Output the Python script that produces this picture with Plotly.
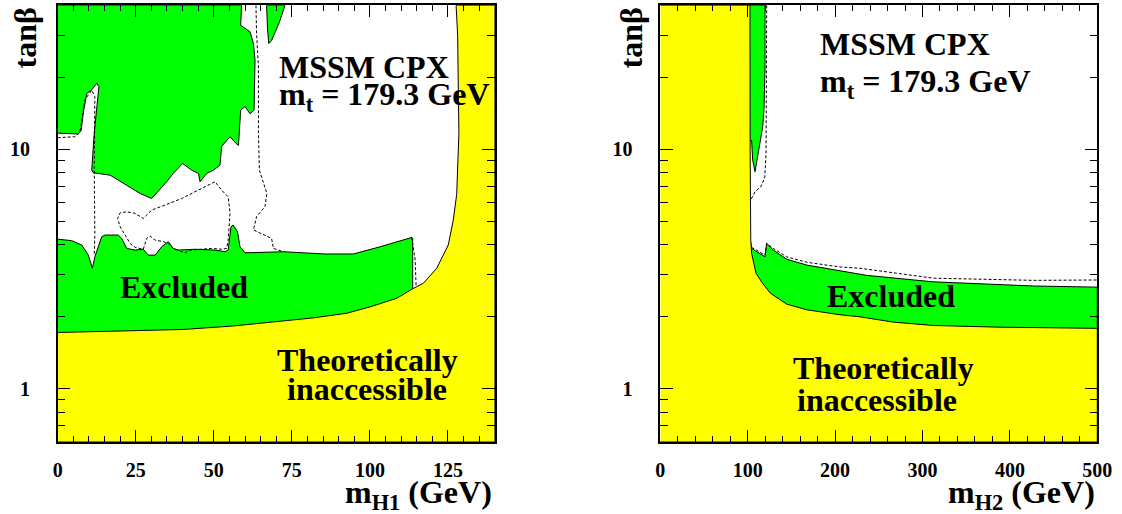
import math
import plotly.graph_objects as go

# ---------------- data: left panel (m_H1) ----------------
h1_excl_upper_x = [0, 58.9, 58.6, 61.6, 62.7, 63.2, 62.9, 61.6, 60.0, 58.6, 57.9, 57.1, 55.2, 52.5, 52.0,
                   49.9, 47.7, 45.6, 45.1, 42.9, 40.0, 37.0, 34.9, 30.1, 26.4, 22.1, 16.8, 11.4, 10.9,
                   11.7, 13.2, 12.5, 11.0, 9.3, 8.3, 7.5, 6.6, 0]
h1_excl_upper_tanb = [40, 40, 33.0, 31.0, 27.7, 23.6, 14.6, 14.1, 15.1, 14.6, 10.4, 10.6, 11.3, 10.3, 8.6,
                      8.2, 7.94, 7.33, 7.94, 8.2, 8.74, 7.94, 7.33, 6.24, 6.55, 7.1, 7.81, 7.99, 8.2,
                      11.7, 18.3, 18.9, 17.8, 17.1, 14.5, 12.0, 11.6, 11.7]

h1_excl_sliver_x = [66.9, 72.8, 71.0, 68.5, 67.6, 67.2, 66.9]
h1_excl_sliver_tanb = [40, 40, 34, 28.5, 27.7, 32, 40]

h1_excl_lower_x = [0, 4.5, 7.7, 9.8, 11.1, 11.9, 14.1, 15.2, 19.4, 20.5, 22.1, 24.8, 27.4, 29.0, 31.2,
                   33.3, 35.4, 37.0, 38.6, 44.0, 50.4, 53.6, 54.6, 55.5, 56.2, 57.6, 58.4, 60.0, 72.3,
                   85.6, 94.7, 103.2, 113.4, 113.7, 113.7, 0]
h1_excl_lower_tanb = [4.22, 4.16, 3.99, 3.62, 3.19, 3.56, 4.32, 4.39, 4.39, 4.25, 3.86, 3.80, 3.83, 3.62, 3.62,
                      3.92, 4.12, 3.86, 3.80, 3.83, 3.80, 3.74, 3.80, 4.75, 4.83, 4.53, 3.92, 3.70, 3.74,
                      3.66, 3.66, 3.92, 4.29, 4.25, 0.6, 0.6]

h1_theory_x = [0, 24, 40, 56, 71.2, 82, 92.6, 100, 108.6, 113.7, 117.1, 121.4, 125.1, 126.7, 127.8,
               128.5, 128.1, 127.6, 140, 140, 0]
h1_theory_tanb = [1.72, 1.75, 1.77, 1.83, 1.91, 1.98, 2.07, 2.20, 2.39, 2.62, 2.76, 3.19, 3.99, 5.07, 6.5,
                  11.7, 30, 40, 40, 0.6, 0.6]

h1_exp_a_x = [0, 5.5, 7.1, 8.7, 10.9, 11.9, 11.7, 11.9, 11.7]
h1_exp_a_tanb = [11.2, 11.3, 11.8, 16.1, 17.7, 16.6, 8.46, 4.46, 3.6]

h1_exp_b_x = [27.4, 28.5, 29.6, 31.2, 33.8, 35.4, 37.0, 40.8, 42.4, 46.1, 49.3, 52.5, 54.1, 54.6, 55.2,
              54.6, 52.5, 50.4, 48.2, 44.0, 39.7, 34.4, 30.1, 27.4, 24.8, 22.1, 20.0, 19.2, 20.0, 21.6,
              23.2, 24.8, 27.4]
h1_exp_b_tanb = [3.83, 4.25, 4.35, 4.18, 4.12, 4.05, 3.86, 3.70, 3.80, 3.83, 3.86, 3.83, 3.86, 4.18, 5.41,
                 6.34, 6.76, 7.33, 7.10, 6.66, 6.24, 5.86, 5.58, 5.15, 5.41, 5.49, 5.44, 5.15, 4.75, 4.39,
                 4.05, 3.90, 3.83]

h1_exp_c_x = [63.5, 63.7, 64.3, 64.3, 64.6, 67.0, 66.4, 63.7, 62.7, 68.5, 69.1, 72.3]
h1_exp_c_tanb = [40, 30.5, 22.1, 11.7, 8.2, 6.55, 5.77, 5.24, 4.61, 4.25, 3.86, 3.74]

h1_exp_d_x = [113.4, 114.5, 114.8]
h1_exp_d_tanb = [4.29, 3.45, 2.67]

# ---------------- data: right panel (m_H2) ----------------
h2_excl_sliver_x = [100, 119.8, 119.8, 118.6, 117.1, 112.1, 108.4, 105.7, 104.5, 100]
h2_excl_sliver_tanb = [40, 40, 22.1, 14.6, 12.4, 9.62, 8.07, 9.02, 10.9, 10.9]

h2_excl_lower_x = [103.5, 104.5, 119.8, 121.7, 129.3, 144.6, 167.5, 205.6, 236, 312, 427, 500, 500, 103.5]
h2_excl_lower_tanb = [4.1, 3.86, 3.56, 4.05, 3.80, 3.48, 3.29, 3.12, 2.98, 2.80, 2.69, 2.66, 0.6, 0.6]

h2_theory_x = [0, 102.6, 102.8, 103.2, 103.5, 104.5, 106.5, 109.5, 117, 126, 144.6, 167.5, 205.6, 228.5,
               266.6, 312.4, 388.7, 500, 500, 0]
h2_theory_tanb = [40, 40, 10, 5, 4.18, 3.68, 3.40, 3.04, 2.76, 2.51, 2.26, 2.14, 2.04, 2.00,
                  1.90, 1.84, 1.81, 1.79, 0.6, 0.6]

h2_exp_a_x = [121.7, 121.5, 121.0, 119.5, 114.9, 108.4, 104.0]
h2_exp_a_tanb = [40, 20, 9.62, 7.6, 6.98, 6.66, 6.2]

h2_exp_b_x = [104.5, 119.8, 121.7, 129.3, 144.6, 167.5, 205.6, 228.5, 312.4, 426.8, 500]
h2_exp_b_tanb = [3.9, 3.62, 4.05, 3.86, 3.56, 3.38, 3.23, 3.19, 2.90, 2.84, 2.85]

# ---------------- axes / labels ----------------
tanb_range = [0.6, 40]
h1_range = [0, 140]
h2_range = [0, 500]
h1_ticks = [0, 25, 50, 75, 100, 125]
h2_ticks = [0, 100, 200, 300, 400, 500]
tanb_major = [1, 10]
tanb_minor = [0.7, 0.8, 0.9, 2, 3, 4, 5, 6, 7, 8, 9, 20, 30]

GREEN = "#00ff00"
YELLOW = "#ffff00"
FONT = "Liberation Serif"

fig = go.Figure()


def poly(x, y, color, xa, ya):
    fig.add_trace(go.Scatter(x=x, y=y, mode="lines", fill="toself", fillcolor=color,
                             line=dict(color="black", width=1), xaxis=xa, yaxis=ya,
                             hoverinfo="skip", showlegend=False))


def dashed(x, y, xa, ya):
    fig.add_trace(go.Scatter(x=x, y=y, mode="lines",
                             line=dict(color="black", width=1, dash="3px,2px"),
                             xaxis=xa, yaxis=ya, hoverinfo="skip", showlegend=False))


# left panel
poly(h1_excl_upper_x, h1_excl_upper_tanb, GREEN, "x", "y")
poly(h1_excl_sliver_x, h1_excl_sliver_tanb, GREEN, "x", "y")
poly(h1_excl_lower_x, h1_excl_lower_tanb, GREEN, "x", "y")
poly(h1_theory_x, h1_theory_tanb, YELLOW, "x", "y")
dashed(h1_exp_a_x, h1_exp_a_tanb, "x", "y")
dashed(h1_exp_b_x, h1_exp_b_tanb, "x", "y")
dashed(h1_exp_c_x, h1_exp_c_tanb, "x", "y")
dashed(h1_exp_d_x, h1_exp_d_tanb, "x", "y")

# right panel
poly(h2_excl_sliver_x, h2_excl_sliver_tanb, GREEN, "x2", "y2")
poly(h2_excl_lower_x, h2_excl_lower_tanb, GREEN, "x2", "y2")
poly(h2_theory_x, h2_theory_tanb, YELLOW, "x2", "y2")
dashed(h2_exp_a_x, h2_exp_a_tanb, "x2", "y2")
dashed(h2_exp_b_x, h2_exp_b_tanb, "x2", "y2")

W, H = 1122, 514
tickfont = dict(family=FONT, size=20, color="black", weight="bold")


def xaxis_cfg(rng, ticks, minor_dtick, x0, x1, anchor):
    return dict(domain=[x0 / W, x1 / W], range=rng, tickvals=ticks, ticks="inside", ticklen=12,
                tickwidth=1, tickcolor="black", mirror="ticks", showline=True, linewidth=1.5,
                linecolor="black", showgrid=False, zeroline=False, tickfont=tickfont,
                ticklabelstandoff=9, automargin=False, anchor=anchor,
                minor=dict(dtick=minor_dtick, ticks="inside", ticklen=6, tickcolor="black",
                           tickwidth=1, showgrid=False))


def yaxis_cfg(anchor):
    return dict(domain=[1 - 442 / H, 1 - 5.3 / H], type="log",
                range=[math.log10(tanb_range[0]), math.log10(tanb_range[1])],
                tickvals=tanb_major, ticktext=[str(v) for v in tanb_major], ticks="inside",
                ticklen=13, tickwidth=1, tickcolor="black", mirror="ticks", showline=True,
                linewidth=1.5, linecolor="black", showgrid=False, zeroline=False,
                tickfont=tickfont, ticklabelstandoff=22, anchor=anchor, automargin=False,
                minor=dict(tickvals=tanb_minor, ticks="inside", ticklen=8, tickcolor="black",
                           tickwidth=1, showgrid=False))


big = dict(family=FONT, size=32, color="black", weight="bold")
title_font = dict(family=FONT, size=32, color="black", weight="bold")

annotations = [
    dict(text="MSSM CPX", x=70.2, y=math.log10(22.0), xref="x", yref="y", xanchor="left", yanchor="middle"),
    dict(text="m<sub>t</sub> = 179.3 GeV", x=70.2, y=math.log10(16.7), xref="x", yref="y", xanchor="left", yanchor="middle"),
    dict(text="Excluded", x=40.3, y=math.log10(2.66), xref="x", yref="y", xanchor="center", yanchor="middle"),
    dict(text="Theoretically", x=99.2, y=math.log10(1.325), xref="x", yref="y", xanchor="center", yanchor="middle"),
    dict(text="inaccessible", x=99.1, y=math.log10(0.995), xref="x", yref="y", xanchor="center", yanchor="middle"),
    dict(text="MSSM CPX", x=180.4, y=math.log10(27.6), xref="x2", yref="y2", xanchor="left", yanchor="middle"),
    dict(text="m<sub>t</sub> = 179.3 GeV", x=180.4, y=math.log10(18.8), xref="x2", yref="y2", xanchor="left", yanchor="middle"),
    dict(text="Excluded", x=263.4, y=math.log10(2.44), xref="x2", yref="y2", xanchor="center", yanchor="middle"),
    dict(text="Theoretically", x=254.8, y=math.log10(1.22), xref="x2", yref="y2", xanchor="center", yanchor="middle"),
    dict(text="inaccessible", x=247.6, y=math.log10(0.90), xref="x2", yref="y2", xanchor="center", yanchor="middle"),
]
for a in annotations:
    a.update(showarrow=False, font=big)

axis_titles = [
    dict(text="m<sub>H1</sub> (GeV)", x=494 / W, y=1 - 494 / H, xanchor="right", yanchor="middle"),
    dict(text="m<sub>H2</sub> (GeV)", x=1097 / W, y=1 - 494 / H, xanchor="right", yanchor="middle"),
    dict(text="tanβ", x=25 / W, y=1 - 6 / H, xanchor="center", yanchor="top", textangle=-90),
    dict(text="tanβ", x=631 / W, y=1 - 6 / H, xanchor="center", yanchor="top", textangle=-90),
]
for a in axis_titles:
    a.update(showarrow=False, font=title_font, xref="paper", yref="paper")

fig.update_layout(
    template="none",
    width=W, height=H, margin=dict(l=0, r=0, t=0, b=0, pad=0),
    paper_bgcolor="white", plot_bgcolor="white", showlegend=False,
    xaxis=xaxis_cfg(h1_range, h1_ticks, 5, 57.7, 494.8, "y"),
    yaxis=yaxis_cfg("x"),
    xaxis2=xaxis_cfg(h2_range, h2_ticks, 20, 660.3, 1097.3, "y2"),
    yaxis2=yaxis_cfg("x2"),
    annotations=annotations + axis_titles,
)

fig.write_html("out.html", config={"displayModeBar": False},
               post_script="document.body.style.margin='0';")
